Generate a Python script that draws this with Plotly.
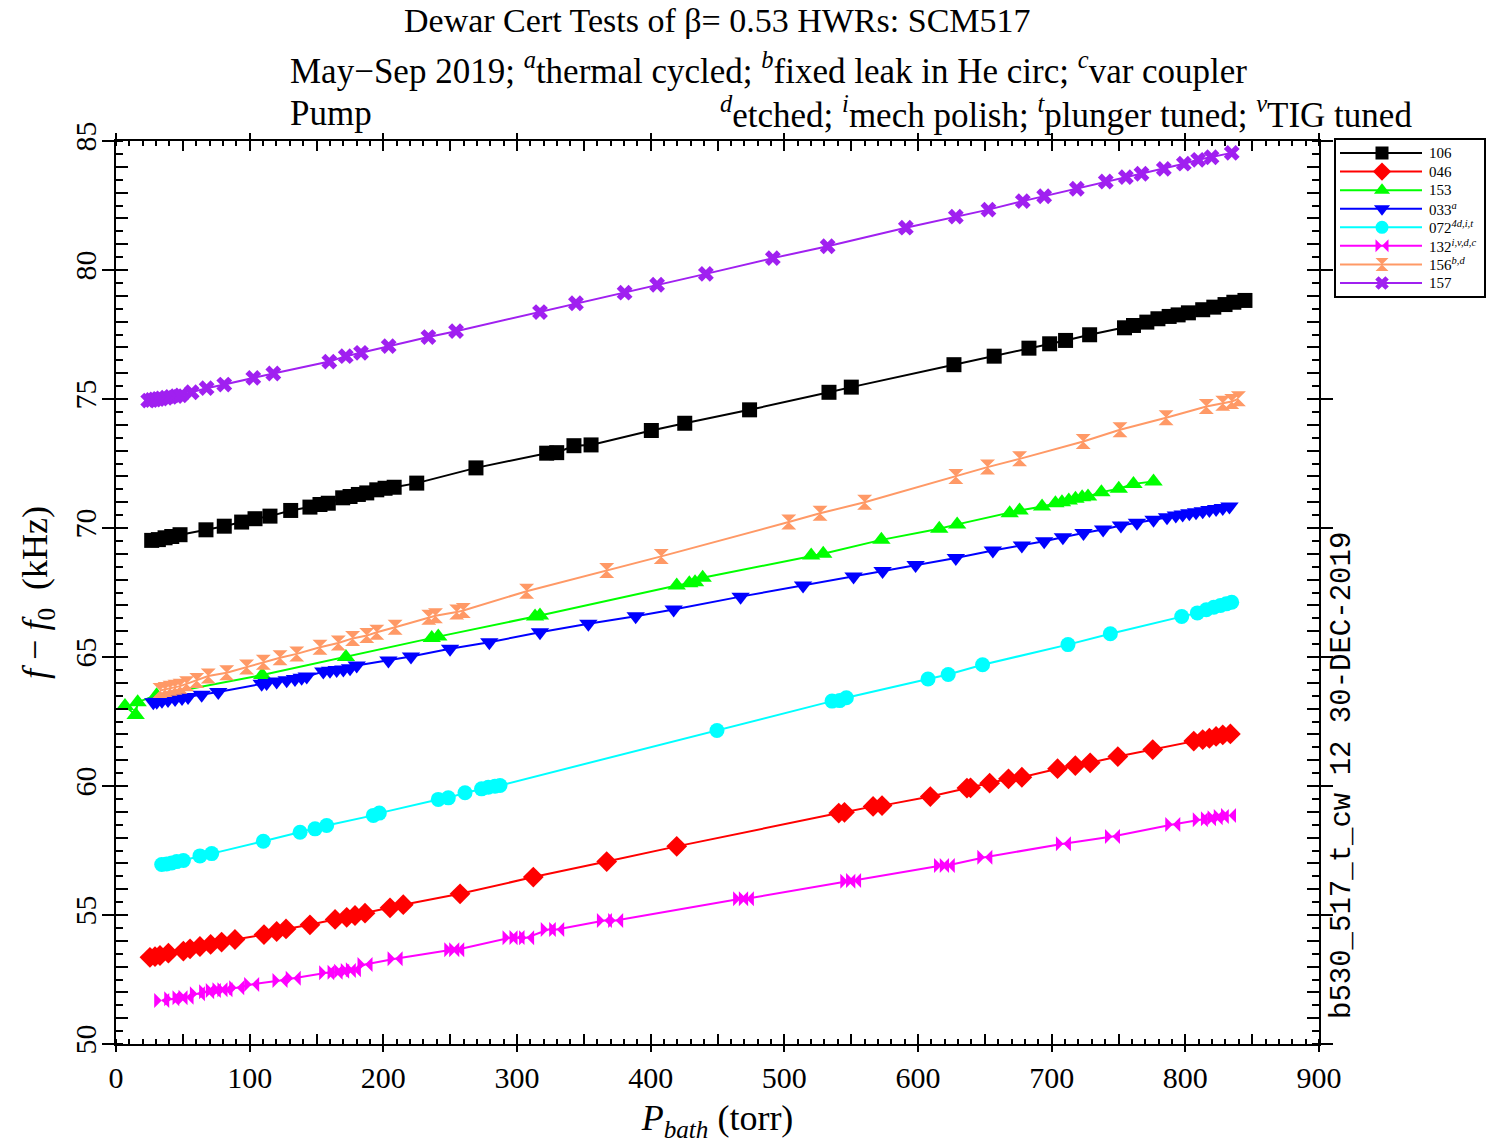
import plotly.graph_objects as go

# Bath pressure (torr) and frequency shift f - f0 (kHz) for each cavity
p_106 = [26.7, 31.7, 36.7, 41.7, 47.9, 67.3, 81.0, 94.0, 104.0, 115.2, 130.7, 145.1, 152.6, 158.8,
         169.6, 175.1, 181.3, 187.6, 195.1, 201.3, 208.1, 225.0, 269.3, 322.2, 329.7, 342.6, 355.4,
         400.5, 425.5, 474.0, 533.4, 550.1, 626.9, 657.0, 683.0, 698.5, 710.4, 728.4, 754.5, 761.2,
         771.2, 779.5, 787.9, 794.6, 802.3, 813.0, 821.3, 829.7, 836.3, 844.6]
df_106 = [69.52, 69.55, 69.62, 69.67, 69.74, 69.93, 70.07, 70.23, 70.36, 70.46, 70.68, 70.81, 70.91,
          70.96, 71.17, 71.22, 71.30, 71.36, 71.48, 71.54, 71.58, 71.74, 72.33, 72.90, 72.92, 73.19,
          73.22, 73.78, 74.06, 74.58, 75.26, 75.46, 76.33, 76.66, 76.97, 77.14, 77.27, 77.49, 77.76,
          77.85, 77.98, 78.11, 78.20, 78.26, 78.34, 78.46, 78.56, 78.66, 78.75, 78.82]

p_046 = [25.4, 29.2, 32.9, 39.2, 50.4, 55.4, 62.8, 70.8, 79.0, 89.0, 110.7, 120.2, 127.2, 145.1,
         163.9, 172.6, 178.8, 186.3, 205.0, 214.9, 257.4, 312.2, 367.1, 419.5, 540.7, 545.0, 566.4,
         573.1, 609.2, 636.6, 639.3, 653.6, 667.7, 677.7, 704.4, 717.7, 728.8, 749.5, 775.6, 806.3,
         813.0, 818.0, 823.0, 828.0, 833.7]
df_046 = [53.36, 53.39, 53.43, 53.52, 53.60, 53.69, 53.78, 53.86, 53.95, 54.05, 54.24, 54.36, 54.46,
          54.62, 54.83, 54.91, 54.98, 55.07, 55.28, 55.40, 55.82, 56.47, 57.07, 57.66, 58.95, 58.98,
          59.21, 59.24, 59.59, 59.92, 59.93, 60.11, 60.28, 60.34, 60.67, 60.79, 60.90, 61.14, 61.41,
          61.74, 61.80, 61.85, 61.92, 61.98, 62.02]

p_153 = [6.7, 14.7, 16.2, 30.4, 109.4, 172.0, 236.2, 241.1, 313.5, 317.2, 419.5, 428.9, 433.2, 438.9,
         520.1, 529.1, 572.6, 615.9, 629.3, 668.6, 676.0, 692.8, 702.8, 707.7, 712.8, 717.8, 722.8,
         727.2, 737.2, 750.2, 761.2, 776.2]
df_153 = [63.10, 62.75, 63.25, 63.52, 64.30, 65.00, 65.74, 65.79, 66.57, 66.61, 67.77, 67.86, 67.90,
          68.07, 68.93, 69.00, 69.54, 69.97, 70.14, 70.57, 70.68, 70.83, 70.96, 71.00, 71.07, 71.13,
          71.19, 71.22, 71.39, 71.52, 71.71, 71.80]

p_033 = [27.9, 30.5, 34.4, 38.9, 44.2, 49.4, 53.9, 64.1, 76.5, 109.0, 112.7, 120.2, 127.7, 133.9,
         138.9, 142.7, 155.1, 160.1, 165.1, 170.1, 175.1, 180.1, 203.8, 220.7, 249.9, 279.3, 317.2,
         353.4, 388.8, 417.2, 467.3, 514.0, 551.8, 573.5, 598.2, 628.3, 656.0, 677.7, 694.4, 708.4,
         723.8, 738.5, 751.8, 763.8, 776.2, 786.3, 792.9, 798.0, 803.0, 808.0, 813.0, 818.0, 823.0,
         828.0, 833.0]
df_033 = [63.25, 63.27, 63.30, 63.33, 63.37, 63.41, 63.45, 63.54, 63.64, 63.96, 63.99, 64.05, 64.10,
          64.15, 64.20, 64.24, 64.44, 64.47, 64.50, 64.52, 64.56, 64.67, 64.86, 65.02, 65.32, 65.57,
          65.96, 66.29, 66.58, 66.84, 67.34, 67.77, 68.12, 68.33, 68.57, 68.84, 69.13, 69.32, 69.49,
          69.64, 69.81, 69.94, 70.10, 70.20, 70.32, 70.42, 70.48, 70.52, 70.57, 70.61, 70.65, 70.70,
          70.74, 70.78, 70.83]

p_072 = [34.2, 37.9, 41.7, 45.4, 50.4, 62.8, 71.6, 110.2, 137.7, 148.9, 157.6, 192.5, 197.0, 241.1,
         248.6, 261.1, 273.5, 278.5, 283.5, 287.3, 449.6, 535.7, 541.4, 546.4, 607.5, 622.6, 648.3,
         712.2, 743.9, 797.3, 809.0, 815.7, 821.3, 826.3, 830.6, 834.7]
df_072 = [56.96, 56.98, 57.02, 57.07, 57.11, 57.29, 57.38, 57.86, 58.21, 58.34, 58.47, 58.86, 58.95,
          59.48, 59.54, 59.74, 59.89, 59.95, 59.99, 60.02, 62.15, 63.29, 63.31, 63.42, 64.15, 64.32,
          64.70, 65.48, 65.90, 66.57, 66.71, 66.83, 66.93, 67.00, 67.06, 67.12]

p_132 = [34.2, 41.7, 47.9, 52.4, 60.9, 67.8, 72.8, 77.8, 81.5, 90.3, 101.5, 122.7, 132.6, 157.6,
         163.9, 168.8, 173.8, 177.6, 186.3, 208.8, 251.2, 254.9, 294.8, 300.0, 307.2, 323.4, 329.7,
         365.4, 373.8, 467.3, 471.6, 547.5, 551.8, 617.6, 621.9, 650.0, 708.8, 745.5, 790.6, 811.2,
         817.3, 822.3, 826.9, 832.3]
df_132 = [51.69, 51.75, 51.79, 51.81, 51.95, 52.03, 52.07, 52.10, 52.10, 52.18, 52.31, 52.46, 52.55,
          52.76, 52.78, 52.82, 52.85, 52.88, 53.08, 53.30, 53.65, 53.65, 54.12, 54.13, 54.12, 54.44,
          54.44, 54.79, 54.79, 55.63, 55.63, 56.31, 56.34, 56.92, 56.92, 57.24, 57.76, 58.04, 58.51,
          58.69, 58.73, 58.77, 58.82, 58.86]

p_156 = [32.9, 36.7, 40.4, 44.1, 47.9, 52.8, 60.4, 69.0, 82.8, 97.7, 110.2, 122.7, 135.2, 152.6,
         166.3, 177.0, 187.6, 195.1, 208.8, 234.0, 239.0, 254.9, 259.8, 307.2, 367.1, 407.9, 503.3,
         526.7, 560.1, 628.3, 652.0, 676.0, 723.6, 751.1, 785.6, 815.7, 828.0, 834.7, 839.7]
df_156 = [63.70, 63.74, 63.79, 63.83, 63.87, 63.96, 64.09, 64.26, 64.39, 64.61, 64.80, 64.97, 65.12,
          65.38, 65.54, 65.72, 65.83, 65.96, 66.15, 66.54, 66.60, 66.74, 66.80, 67.55, 68.35, 68.90,
          70.23, 70.57, 71.00, 72.00, 72.36, 72.68, 73.35, 73.81, 74.27, 74.71, 74.84, 74.90, 75.01]

p_157 = [24.1, 26.5, 29.0, 31.5, 34.0, 37.5, 41.0, 45.0, 48.5, 56.6, 67.8, 81.0, 102.7, 117.7, 159.6,
         171.9, 183.3, 204.0, 233.7, 254.4, 317.2, 344.1, 380.5, 404.8, 441.3, 491.4, 532.4, 590.9,
         628.3, 652.7, 678.4, 694.4, 718.8, 740.5, 755.5, 767.2, 783.9, 798.9, 809.6, 819.6, 834.7]
df_157 = [74.94, 74.96, 74.98, 75.00, 75.02, 75.05, 75.08, 75.11, 75.14, 75.26, 75.42, 75.56, 75.82,
          75.99, 76.45, 76.66, 76.79, 77.05, 77.40, 77.63, 78.37, 78.71, 79.12, 79.43, 79.85, 80.46,
          80.92, 81.64, 82.07, 82.34, 82.67, 82.86, 83.15, 83.43, 83.60, 83.73, 83.92, 84.12, 84.27,
          84.37, 84.54]

cavities = ["106", "046", "153", "033", "072", "132", "156", "157"]
legend_text = ["106", "046", "153", "033<sup><i>a</i></sup>", "072<sup><i>4d,i,t</i></sup>",
               "132<sup><i>i,v,d,c</i></sup>", "156<sup><i>b,d</i></sup>", "157"]
x_ticks = [0, 100, 200, 300, 400, 500, 600, 700, 800, 900]
y_ticks = [50, 55, 60, 65, 70, 75, 80, 85]

series = {
    "106": (p_106, df_106), "046": (p_046, df_046), "153": (p_153, df_153), "033": (p_033, df_033),
    "072": (p_072, df_072), "132": (p_132, df_132), "156": (p_156, df_156), "157": (p_157, df_157),
}

# drawing style per cavity
style = {
    "106": dict(color="#000000", symbol="square", size=15),
    "046": dict(color="#FF0000", symbol="diamond", size=16),
    "153": dict(color="#00FF00", symbol="triangle-up", size=16),
    "033": dict(color="#0000FF", symbol="triangle-down", size=16),
    "072": dict(color="#00FFFF", symbol="circle", size=15),
    "132": dict(color="#FF00FF", symbol="bowtie", size=15),
    "156": dict(color="#FF9966", symbol="hourglass", size=15),
    "157": dict(color="#A020F0", symbol="x", size=14),
}

W, H = 1486, 1143
L, R, T, B = 116, 1319, 141, 1044          # plot frame in pixels
LEG_L, LEG_R, LEG_T, LEG_B = 1336, 1484, 140, 296
SERIF = "Liberation Serif, Times New Roman, serif"
MONO = "Liberation Mono, DejaVu Sans Mono, monospace"

fig = go.Figure()

for name in cavities:
    px_, fy = series[name]
    s = style[name]
    fig.add_trace(go.Scatter(
        x=px_, y=fy, mode="lines+markers", name=name, showlegend=False,
        line=dict(color=s["color"], width=2),
        marker=dict(symbol=s["symbol"], size=s["size"], color=s["color"],
                    line=dict(width=0)),
        xaxis="x", yaxis="y", hoverinfo="skip"))

# carrier for the secondary tick axes
fig.add_trace(go.Scatter(x=[None], y=[None], xaxis="x2", yaxis="y2", showlegend=False,
                         hoverinfo="skip"))

# legend samples drawn in their own little frame
for i, name in enumerate(cavities):
    s = style[name]
    fig.add_trace(go.Scatter(x=[4, 86], y=[i, i], mode="lines", showlegend=False,
                             line=dict(color=s["color"], width=2),
                             xaxis="x3", yaxis="y3", hoverinfo="skip"))
    fig.add_trace(go.Scatter(x=[46], y=[i], mode="markers", showlegend=False,
                             marker=dict(symbol=s["symbol"], size=s["size"] - 2,
                                         color=s["color"], line=dict(width=0)),
                             xaxis="x3", yaxis="y3", hoverinfo="skip"))
    fig.add_annotation(x=91, y=i, xref="x3", yref="y3", text=legend_text[i],
                       showarrow=False, xanchor="left", yanchor="middle",
                       font=dict(family=SERIF, size=15, color="black"))

xdom = [L / W, R / W]
ydom = [1 - B / H, 1 - T / H]

axis_common = dict(showgrid=False, zeroline=False, showline=True, linecolor="black",
                   linewidth=2, mirror="ticks", tickcolor="black", tickwidth=2)

fig.update_layout(
    width=W, height=H, autosize=False,
    margin=dict(l=0, r=0, t=0, b=0, pad=0),
    paper_bgcolor="white", plot_bgcolor="white",
    showlegend=False,
    xaxis=dict(domain=xdom, range=[0, 900], tickmode="array", tickvals=x_ticks,
               ticks="outside", ticklen=6, automargin=False,
               tickfont=dict(family=SERIF, size=30, color="black"),
               minor=dict(ticks="inside", dtick=10, tick0=0, ticklen=5, tickwidth=1.5,
                          tickcolor="black", showgrid=False),
               title=dict(text="<i>P<sub>bath</sub></i> (torr)", standoff=12,
                          font=dict(family=SERIF, size=36, color="black")),
               anchor="y", **axis_common),
    yaxis=dict(domain=ydom, range=[50, 85], tickmode="array", tickvals=y_ticks,
               ticks="outside", ticklen=12, tickangle=-90, automargin=False,
               ticklabelstandoff=-6,
               tickfont=dict(family=SERIF, size=30, color="black"),
               minor=dict(ticks="inside", dtick=0.5, tick0=50, ticklen=7, tickwidth=1.5,
                          tickcolor="black", showgrid=False),
               title=dict(text="<i>f</i> − <i>f</i><sub>0</sub>  (kHz)", standoff=10,
                          font=dict(family=SERIF, size=36, color="black")),
               anchor="x", **axis_common),
    xaxis2=dict(overlaying="x", anchor="y", range=[0, 900], tickmode="linear", tick0=0,
                dtick=50, ticks="inside", ticklen=10, showticklabels=False,
                showgrid=False, zeroline=False, showline=False, mirror="ticks",
                tickcolor="black", tickwidth=2),
    yaxis2=dict(overlaying="y", anchor="x", range=[50, 85], tickmode="linear", tick0=50,
                dtick=1, ticks="inside", ticklen=12, showticklabels=False,
                showgrid=False, zeroline=False, showline=False, mirror="ticks",
                tickcolor="black", tickwidth=2),
    xaxis3=dict(domain=[LEG_L / W, LEG_R / W], range=[0, LEG_R - LEG_L], anchor="y3",
                showgrid=False, zeroline=False, showticklabels=False, ticks="",
                showline=True, mirror=True, linecolor="black", linewidth=2, fixedrange=True),
    yaxis3=dict(domain=[1 - LEG_B / H, 1 - LEG_T / H], range=[7.7, -0.7], anchor="x3",
                showgrid=False, zeroline=False, showticklabels=False, ticks="",
                showline=True, mirror=True, linecolor="black", linewidth=2, fixedrange=True),
)

# header lines
fig.add_annotation(x=717 / W, y=1 - 20 / H, xref="paper", yref="paper", showarrow=False,
                   text="Dewar Cert Tests of β= 0.53 HWRs: SCM517",
                   xanchor="center", yanchor="middle",
                   font=dict(family=SERIF, size=34, color="black"))
fig.add_annotation(x=288 / W, y=1 - 68 / H, xref="paper", yref="paper", showarrow=False,
                   text="May−Sep 2019; <sup><i>a</i></sup>thermal cycled; "
                        "<sup><i>b</i></sup>fixed leak in He circ; <sup><i>c</i></sup>var coupler",
                   xanchor="left", yanchor="middle",
                   font=dict(family=SERIF, size=35, color="black"))
fig.add_annotation(x=288 / W, y=1 - 114 / H, xref="paper", yref="paper", showarrow=False,
                   text="Pump", xanchor="left", yanchor="middle",
                   font=dict(family=SERIF, size=35, color="black"))
fig.add_annotation(x=1414 / W, y=1 - 112 / H, xref="paper", yref="paper", showarrow=False,
                   text="<sup><i>d</i></sup>etched; <sup><i>i</i></sup>mech polish; "
                        "<sup><i>t</i></sup>plunger tuned; <sup><i>v</i></sup>TIG tuned",
                   xanchor="right", yanchor="middle",
                   font=dict(family=SERIF, size=35, color="black"))

# run identifier along the right edge
fig.add_annotation(x=1342 / W, y=1 - 776 / H, xref="paper", yref="paper", showarrow=False,
                   text="b530_517_t_cw 12 30-DEC-2019", textangle=-90,
                   xanchor="center", yanchor="middle",
                   font=dict(family=MONO, size=29, color="black"))

fig.write_html("out.html")
